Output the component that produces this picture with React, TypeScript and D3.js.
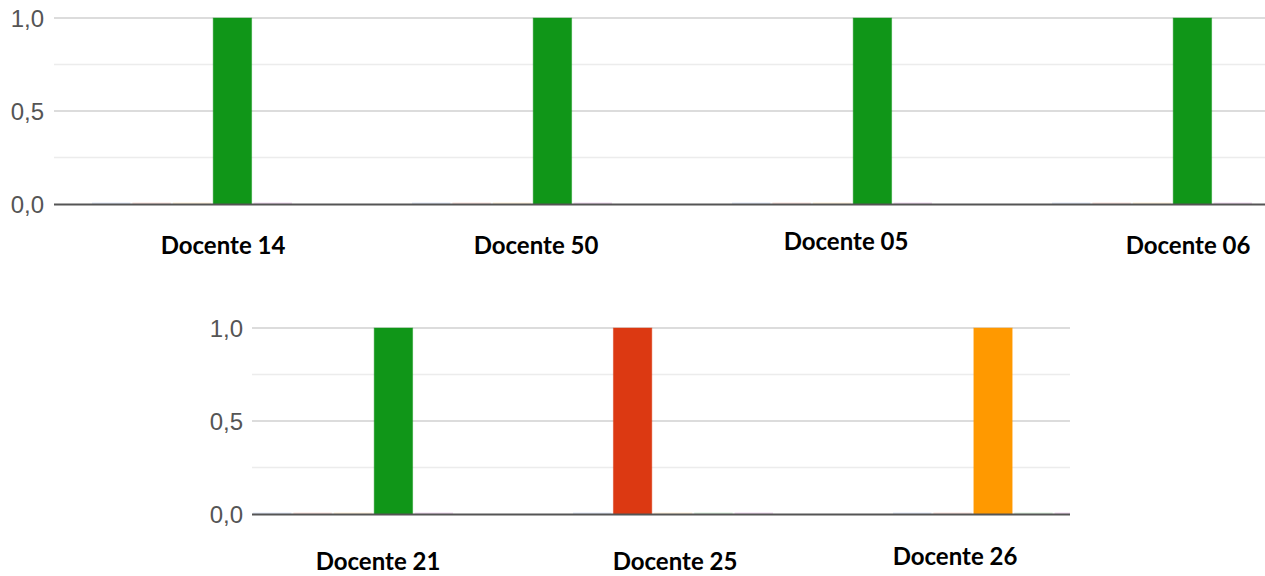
import React from "react";
import * as d3 from "d3";

// ---- data ----
const seriesKeys = ["s1", "s2", "s3", "s4", "s5"];
const seriesColors = ["#3366cc", "#dc3912", "#ff9900", "#109618", "#990099"];
const categoriesTop = ["Docente 14", "Docente 50", "Docente 05", "Docente 06"];
const valuesTop = [
  [0, 0, 0, 1, 0],
  [0, 0, 0, 1, 0],
  [0, 0, 0, 1, 0],
  [0, 0, 0, 1, 0],
];
const categoriesBottom = ["Docente 21", "Docente 25", "Docente 26"];
const valuesBottom = [
  [0, 0, 0, 1, 0],
  [0, 1, 0, 0, 0],
  [0, 0, 1, 0, 0],
];
const yTicks = [0, 0.5, 1];
const yMinorTicks = [0.25, 0.75];
const fmt = (v: number) => v.toFixed(1).replace(".", ",");

type PanelProps = {
  categories: string[];
  values: number[][];
  rangeStart: number;
  plotLeft: number;
  plotRight: number;
  yTop: number;
  yBase: number;
  tickRight: number;
  labelDx: number[];
  labelY: number[];
};

function Panel(p: PanelProps) {
  const n = p.categories.length;
  const step = 320;
  const x0 = d3
    .scaleBand<string>()
    .domain(p.categories)
    .range([p.rangeStart, p.rangeStart + n * step])
    .paddingInner(0.375)
    .paddingOuter(0.1875);
  const x1 = d3
    .scaleBand<string>()
    .domain(seriesKeys)
    .range([0, x0.bandwidth()])
    .paddingInner(0.05);
  const y = d3.scaleLinear().domain([0, 1]).range([p.yBase, p.yTop]);
  const clipId = "clip" + p.rangeStart;
  return (
    <g>
      <defs>
        <clipPath id={clipId}>
          <rect x={p.plotLeft} y={0} width={p.plotRight - p.plotLeft} height={600} />
        </clipPath>
      </defs>
      {yMinorTicks.map((t) => (
        <line key={"m" + t} x1={p.plotLeft} x2={p.plotRight} y1={y(t)} y2={y(t)} stroke="#ececec" strokeWidth={1.5} />
      ))}
      {yTicks.map((t) => (
        <g key={"t" + t}>
          {t !== 0 && (
            <line x1={p.plotLeft} x2={p.plotRight} y1={y(t)} y2={y(t)} stroke="#d0d0d0" strokeWidth={1.5} />
          )}
          <text
            x={p.tickRight}
            y={y(t)}
            dy="0.36em"
            textAnchor="end"
            fontFamily="Arial, 'Liberation Sans', sans-serif"
            fontSize={24}
            fill="#555"
          >
            {fmt(t)}
          </text>
        </g>
      ))}
      <g clipPath={`url(#${clipId})`}>
        {p.categories.map((c, i) =>
          p.values[i].map((v, j) => {
            const bx = (x0(c) as number) + (x1(seriesKeys[j]) as number);
            const h = Math.max(p.yBase - y(v), 1.5);
            return (
              <rect
                key={c + j}
                x={bx}
                y={p.yBase - h}
                width={x1.bandwidth()}
                height={h}
                fill={seriesColors[j]}
                fillOpacity={v > 0 ? 1 : 0.15}
                stroke={v > 0 ? seriesColors[j] : "none"}
                strokeOpacity={0.45}
                strokeWidth={1}
              />
            );
          })
        )}
      </g>
      <line x1={p.plotLeft} x2={p.plotRight} y1={p.yBase + 0.5} y2={p.yBase + 0.5} stroke="#555" strokeWidth={2} />
      {p.categories.map((c, i) => (
        <text
          key={"l" + c}
          x={(x0(c) as number) + x0.bandwidth() / 2 + p.labelDx[i]}
          y={p.labelY[i]}
          textAnchor="middle"
          fontFamily="Lato, 'Open Sans', sans-serif"
          fontWeight={700}
          fontSize={24}
          fill="#000"
        >
          {c}
        </text>
      ))}
    </g>
  );
}

export default function App() {
  return (
    <svg
      width={1265}
      height={576}
      style={{ position: "absolute", left: 0, top: 0, background: "#fff" }}
    >
      <rect x={0} y={0} width={1265} height={576} fill="#fff" />
      <Panel
        categories={categoriesTop}
        values={valuesTop}
        rangeStart={32}
        plotLeft={54}
        plotRight={1265}
        yTop={18}
        yBase={204}
        tickRight={44}
        labelDx={[31, 24, 14, 36]}
        labelY={[254, 254, 250, 254]}
      />
      <Panel
        categories={categoriesBottom}
        values={valuesBottom}
        rangeStart={193}
        plotLeft={252}
        plotRight={1070}
        yTop={328}
        yBase={514}
        tickRight={243}
        labelDx={[25, 2, -38]}
        labelY={[570, 570, 565]}
      />
    </svg>
  );
}
